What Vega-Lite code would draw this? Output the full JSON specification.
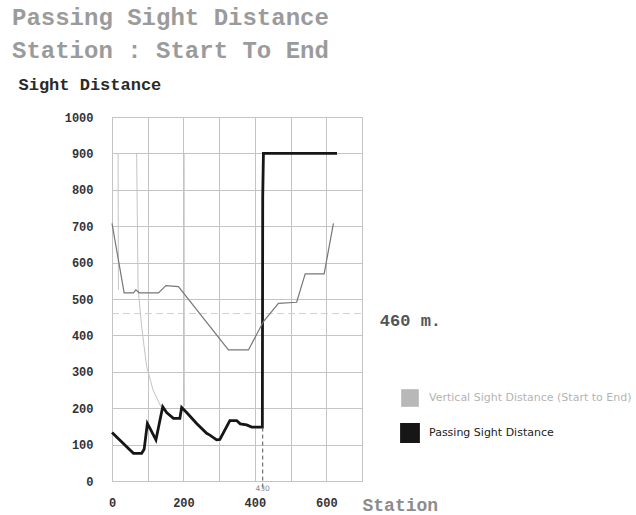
{
  "$schema": "https://vega.github.io/schema/vega-lite/v6.json",
  "width": 250,
  "height": 364,
  "autosize": {"type": "none"},
  "padding": {"left": 112, "top": 117, "right": 274, "bottom": 34},
  "background": "white",
  "title": {
    "text": ["Passing Sight Distance", "Station : Start To End"],
    "anchor": "start",
    "frame": "group",
    "dx": -100,
    "offset": 12,
    "font": "Liberation Mono",
    "fontSize": 24,
    "fontWeight": "bold",
    "color": "#9b9b9b",
    "lineHeight": 33
  },
  "config": {
    "view": {"stroke": "#c4c4c4"},
    "axis": {"gridColor": "#c4c4c4", "gridOpacity": 1, "domain": false, "ticks": false, "labelOverlap": false}
  },
  "datasets": {
    "profile": [
      {"x": 0, "y": 708}, {"x": 34, "y": 517}, {"x": 60, "y": 517}, {"x": 67, "y": 525},
      {"x": 76, "y": 517}, {"x": 130, "y": 517}, {"x": 151, "y": 537}, {"x": 186, "y": 534},
      {"x": 326, "y": 360}, {"x": 382, "y": 360}, {"x": 424, "y": 438}, {"x": 466, "y": 488},
      {"x": 517, "y": 491}, {"x": 541, "y": 569}, {"x": 594, "y": 569}, {"x": 620, "y": 708}
    ],
    "series": [
      {"series": "Vertical Sight Distance (Start to End)", "seg": "a", "x": 17, "y": 900},
      {"series": "Vertical Sight Distance (Start to End)", "seg": "a", "x": 18, "y": 525},
      {"series": "Vertical Sight Distance (Start to End)", "seg": "b", "x": 69, "y": 900},
      {"series": "Vertical Sight Distance (Start to End)", "seg": "b", "x": 73, "y": 530},
      {"series": "Vertical Sight Distance (Start to End)", "seg": "b", "x": 83, "y": 424},
      {"series": "Vertical Sight Distance (Start to End)", "seg": "b", "x": 97, "y": 314},
      {"series": "Vertical Sight Distance (Start to End)", "seg": "b", "x": 115, "y": 250},
      {"series": "Vertical Sight Distance (Start to End)", "seg": "b", "x": 137, "y": 204},
      {"series": "Vertical Sight Distance (Start to End)", "seg": "c", "x": 202, "y": 900},
      {"series": "Vertical Sight Distance (Start to End)", "seg": "c", "x": 202.5, "y": 205},
      {"series": "Passing Sight Distance", "seg": "p", "x": 0, "y": 133},
      {"series": "Passing Sight Distance", "seg": "p", "x": 60, "y": 76},
      {"series": "Passing Sight Distance", "seg": "p", "x": 83, "y": 76},
      {"series": "Passing Sight Distance", "seg": "p", "x": 90, "y": 87},
      {"series": "Passing Sight Distance", "seg": "p", "x": 99, "y": 158},
      {"series": "Passing Sight Distance", "seg": "p", "x": 106, "y": 145},
      {"series": "Passing Sight Distance", "seg": "p", "x": 123, "y": 113},
      {"series": "Passing Sight Distance", "seg": "p", "x": 142, "y": 204},
      {"series": "Passing Sight Distance", "seg": "p", "x": 153, "y": 188},
      {"series": "Passing Sight Distance", "seg": "p", "x": 172, "y": 172},
      {"series": "Passing Sight Distance", "seg": "p", "x": 190, "y": 172},
      {"series": "Passing Sight Distance", "seg": "p", "x": 195, "y": 202},
      {"series": "Passing Sight Distance", "seg": "p", "x": 209, "y": 188},
      {"series": "Passing Sight Distance", "seg": "p", "x": 237, "y": 158},
      {"series": "Passing Sight Distance", "seg": "p", "x": 265, "y": 131},
      {"series": "Passing Sight Distance", "seg": "p", "x": 274, "y": 126},
      {"series": "Passing Sight Distance", "seg": "p", "x": 293, "y": 113},
      {"series": "Passing Sight Distance", "seg": "p", "x": 302, "y": 114},
      {"series": "Passing Sight Distance", "seg": "p", "x": 330, "y": 166},
      {"series": "Passing Sight Distance", "seg": "p", "x": 349, "y": 166},
      {"series": "Passing Sight Distance", "seg": "p", "x": 359, "y": 157},
      {"series": "Passing Sight Distance", "seg": "p", "x": 377, "y": 154},
      {"series": "Passing Sight Distance", "seg": "p", "x": 391, "y": 148},
      {"series": "Passing Sight Distance", "seg": "p", "x": 421, "y": 148},
      {"series": "Passing Sight Distance", "seg": "p", "x": 422, "y": 780},
      {"series": "Passing Sight Distance", "seg": "p", "x": 424, "y": 900},
      {"series": "Passing Sight Distance", "seg": "p", "x": 630, "y": 900}
    ],
    "marker": [{"x": 422, "y0": -18, "y1": 148, "label": "430", "ly": -22}],
    "ref": [{"y": 460, "x0": 0, "x1": 700, "tx": 750, "label": "460 m."}]
  },
  "encoding": {
    "x": {
      "field": "x",
      "type": "quantitative",
      "scale": {"domain": [0, 700], "nice": false, "zero": false},
      "axis": {
        "values": [0, 100, 200, 300, 400, 500, 600, 700],
        "tickCount": 20,
        "grid": true,
        "labelExpr": "datum.value % 200 == 0 ? datum.label : ''",
        "labelFlush": false,
        "labelPadding": 16,
        "labelFont": "Liberation Mono",
        "labelFontSize": 12,
        "labelFontWeight": "bold",
        "labelColor": "#333",
        "title": "Station",
        "titleAnchor": "start",
        "titleAlign": "left",
        "titleX": 250,
        "titleY": 29,
        "titleBaseline": "alphabetic",
        "titleFont": "Liberation Mono",
        "titleFontSize": 18,
        "titleFontWeight": "bold",
        "titleColor": "#8c8c8c"
      }
    },
    "y": {
      "field": "y",
      "type": "quantitative",
      "scale": {"domain": [0, 1000], "nice": false},
      "axis": {
        "values": [0, 100, 200, 300, 400, 500, 600, 700, 800, 900, 1000],
        "tickCount": 20,
        "grid": true,
        "format": "d",
        "labelPadding": 19,
        "labelFont": "Liberation Mono",
        "labelFontSize": 12,
        "labelFontWeight": "bold",
        "labelColor": "#333",
        "title": "Sight Distance",
        "titleAngle": 0,
        "titleAlign": "left",
        "titleX": -94,
        "titleY": -28,
        "titleBaseline": "alphabetic",
        "titleFont": "Liberation Mono",
        "titleFontSize": 17,
        "titleFontWeight": "bold",
        "titleColor": "#2a2a2a"
      }
    }
  },
  "layer": [
    {
      "data": {"name": "ref"},
      "mark": {"type": "rule", "color": "#d0d0d0", "strokeDash": [7, 4], "strokeWidth": 1},
      "encoding": {
        "x": {"field": "x0", "type": "quantitative"},
        "x2": {"field": "x1"},
        "y": {"field": "y", "type": "quantitative"}
      }
    },
    {
      "data": {"name": "series"},
      "mark": {"type": "line", "strokeJoin": "miter"},
      "encoding": {
        "detail": {"field": "seg"},
        "color": {
          "field": "series", "type": "nominal",
          "scale": {
            "domain": ["Vertical Sight Distance (Start to End)", "Passing Sight Distance"],
            "range": ["#c4c4c4", "#161616"]
          },
          "legend": {
            "title": null,
            "orient": "none",
            "legendX": 288,
            "legendY": 272,
            "symbolType": "square",
            "symbolSize": 289,
            "symbolStrokeWidth": 0,
            "symbolFillColor": {"expr": "datum.label == 'Passing Sight Distance' ? '#161616' : '#b8b8b8'"},
            "symbolStrokeColor": {"expr": "datum.label == 'Passing Sight Distance' ? '#161616' : '#b8b8b8'"},
            "rowPadding": 9,
            "labelOffset": 9,
            "labelLimit": 400,
            "labelFont": "DejaVu Sans",
            "labelFontSize": 11,
            "labelColor": {"expr": "datum.label == 'Passing Sight Distance' ? '#222222' : '#b4b4b4'"}
          }
        },
        "strokeWidth": {
          "field": "series", "type": "nominal",
          "scale": {
            "domain": ["Vertical Sight Distance (Start to End)", "Passing Sight Distance"],
            "range": [1, 2.8]
          },
          "legend": null
        }
      }
    },
    {
      "data": {"name": "profile"},
      "mark": {"type": "line", "color": "#777777", "strokeWidth": 1.2}
    },
    {
      "data": {"name": "marker"},
      "mark": {"type": "rule", "color": "#555", "strokeDash": [4, 3], "strokeWidth": 1},
      "encoding": {
        "y": {"field": "y0", "type": "quantitative"},
        "y2": {"field": "y1"}
      }
    },
    {
      "data": {"name": "marker"},
      "mark": {"type": "text", "font": "DejaVu Sans", "fontSize": 7.5, "color": "#888", "baseline": "middle"},
      "encoding": {
        "y": {"field": "ly", "type": "quantitative"},
        "text": {"field": "label"}
      }
    },
    {
      "data": {"name": "ref"},
      "mark": {"type": "text", "font": "Liberation Mono", "fontSize": 17, "fontWeight": "bold", "color": "#555", "align": "left", "baseline": "middle", "dy": 7},
      "encoding": {
        "x": {"field": "tx", "type": "quantitative"},
        "text": {"field": "label"}
      }
    }
  ]
}
